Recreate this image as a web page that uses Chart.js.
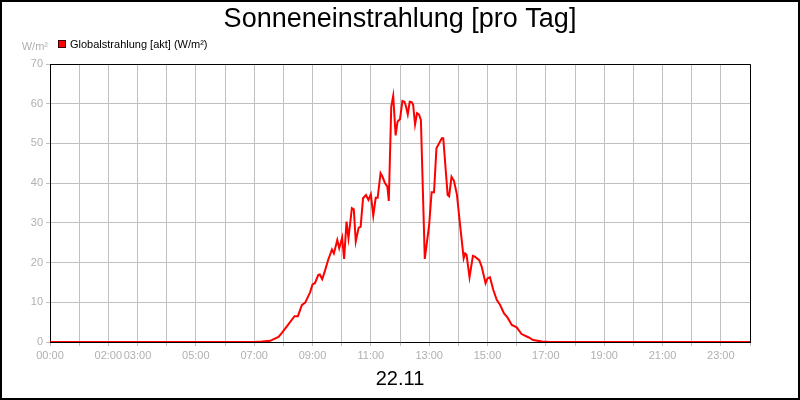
<!DOCTYPE html>
<html>
<head>
<meta charset="utf-8">
<script src="https://cdn.jsdelivr.net/npm/chart.js@4"></script>
<style>
  html, body { margin: 0; padding: 0; background: #fff; }
  #wrap { width: 800px; height: 400px; }
</style>
</head>
<body>
<div id="wrap"><canvas id="sun"></canvas></div>
<script>
// time of day (HH:MM) and global radiation in W/m²
const times = [
  "00:00", "07:00", "07:16", "07:33", "07:50", "07:57", "08:10", "08:23", "08:30", "08:38",
  "08:45", "08:55", "09:00", "09:05", "09:12", "09:15", "09:20", "09:26", "09:32", "09:40",
  "09:44", "09:51", "09:55", "10:01", "10:05", "10:10", "10:14", "10:21", "10:25", "10:29",
  "10:35", "10:39", "10:44", "10:50", "10:55", "11:00", "11:05", "11:10", "11:14", "11:20",
  "11:24", "11:29", "11:34", "11:37", "11:42", "11:46", "11:51", "11:55", "12:00", "12:05",
  "12:09", "12:12", "12:16", "12:20", "12:24", "12:27", "12:31", "12:35", "12:39", "12:43",
  "12:51", "13:00", "13:05", "13:10", "13:15", "13:26", "13:29", "13:38", "13:41", "13:46",
  "13:51", "13:57", "14:03", "14:11", "14:14", "14:17", "14:23", "14:30", "14:34", "14:43",
  "14:48", "14:56", "15:00", "15:05", "15:12", "15:19", "15:26", "15:34", "15:41", "15:50",
  "16:00", "16:10", "16:24", "16:34", "16:52", "17:09", "24:00"
];
const radiation = [
  0, 0, 0.1, 0.3, 1.3, 2.3, 4.4, 6.5, 6.5, 9.3,
  9.9, 12.5, 14.5, 14.8, 16.9, 17.0, 15.8, 18.1, 20.6, 23.3,
  22.3, 25.7, 23.6, 26.3, 20.9, 30.3, 26.1, 33.7, 33.4, 25.3,
  28.8, 29.0, 36.2, 37.0, 35.8, 37.2, 31.8, 36.3, 36.3, 42.5,
  41.6, 40.0, 39.1, 35.5, 59.3, 62.0, 52.0, 55.5, 56.1, 60.7,
  60.5, 59.5, 57.3, 60.5, 60.4, 59.7, 54.8, 57.6, 57.3, 55.9,
  20.9, 29.5, 37.7, 37.7, 48.8, 51.3, 51.3, 37.0, 36.7, 41.6,
  40.6, 37.2, 30.1, 21.1, 22.3, 21.9, 16.3, 21.7, 21.5, 20.6,
  19.0, 14.8, 16.0, 16.3, 13.1, 10.6, 9.3, 7.2, 6.2, 4.3,
  3.7, 2.0, 1.2, 0.5, 0.1, 0, 0
];
// hours that carry a label on the x axis (grid is drawn every hour)
const labelHours = [0, 2, 3, 5, 7, 9, 11, 13, 15, 17, 19, 21, 23];
const yMax = 70;
const yStep = 10;
const dayLabel = "22.11";

const FONT = "'Liberation Sans', Arial, sans-serif";
const GRID = "#c0c0c0";
const TEXT_GRAY = "#b0b0b0";

function toMinutes(t) {
  const [h, m] = t.split(":").map(Number);
  return h * 60 + m;
}
function hhmm(min) {
  const h = Math.floor(min / 60);
  return String(h).padStart(2, "0") + ":00";
}

const points = times.map((t, i) => ({ x: toMinutes(t), y: radiation[i] }));

// frame round the plot, outer border, legend and unit label
const decorations = {
  id: "decorations",
  afterDraw(chart) {
    const ctx = chart.ctx;
    const a = chart.chartArea;
    ctx.save();
    ctx.strokeStyle = "#000";
    ctx.lineWidth = 1;
    ctx.beginPath();
    ctx.moveTo(Math.round(a.left) + 0.5, Math.round(a.top) + 0.5);
    ctx.lineTo(Math.round(a.right) + 0.5, Math.round(a.top) + 0.5);
    ctx.lineTo(Math.round(a.right) + 0.5, Math.round(a.bottom) + 0.5);
    ctx.stroke();

    ctx.lineWidth = 2;
    ctx.strokeRect(1, 1, chart.width - 2, chart.height - 2);

    const ds = chart.data.datasets[0];
    ctx.fillStyle = ds.borderColor;
    ctx.fillRect(58, 40, 8, 8);
    ctx.lineWidth = 1;
    ctx.strokeStyle = "#400000";
    ctx.strokeRect(58.5, 40.5, 7, 7);

    ctx.font = "11px " + FONT;
    ctx.textBaseline = "middle";
    ctx.textAlign = "left";
    ctx.fillStyle = "#000";
    ctx.fillText(ds.label, 70, 44.5);

    ctx.fillStyle = TEXT_GRAY;
    ctx.textAlign = "right";
    ctx.fillText("W/m²", 48, 47);
    ctx.restore();
  }
};

new Chart(document.getElementById("sun").getContext("2d"), {
  type: "line",
  data: {
    datasets: [
      {
        label: "Globalstrahlung [akt] (W/m²)",
        data: points,
        borderColor: "#ff0000",
        borderWidth: 2,
        pointRadius: 0,
        tension: 0,
        fill: false,
      },
    ],
  },
  options: {
    responsive: true,
    maintainAspectRatio: false,
    animation: false,
    layout: { padding: 0 },
    plugins: {
      legend: { display: false },
      tooltip: { enabled: false },
      title: {
        display: true,
        text: "Sonneneinstrahlung [pro Tag]",
        color: "#000",
        font: { family: FONT, size: 27, weight: "normal", lineHeight: 1.2 },
        padding: { top: 3, bottom: 28.6 },
      },
    },
    scales: {
      x: {
        type: "linear",
        min: 0,
        max: 1440,
        afterBuildTicks: (scale) => {
          const ticks = [];
          for (let h = 0; h <= 24; h++) ticks.push({ value: h * 60 });
          scale.ticks = ticks;
        },
        afterFit: (scale) => { scale.height = 58; },
        ticks: {
          autoSkip: false,
          maxRotation: 0,
          padding: 3,
          color: TEXT_GRAY,
          font: { family: FONT, size: 11 },
          callback: (v) => (labelHours.includes(v / 60) ? hhmm(v) : ""),
        },
        grid: { color: GRID, tickColor: GRID, tickLength: 4 },
        border: { color: "#000", width: 1 },
        title: {
          display: true,
          text: dayLabel,
          color: "#000",
          font: { family: FONT, size: 20 },
          padding: { top: 0, bottom: 9 },
        },
      },
      y: {
        min: 0,
        max: yMax,
        afterFit: (scale) => { scale.width = 50; },
        ticks: {
          stepSize: yStep,
          padding: 3,
          color: TEXT_GRAY,
          font: { family: FONT, size: 11 },
        },
        grid: { color: GRID, tickColor: GRID, tickLength: 4 },
        border: { color: "#000", width: 1 },
      },
      // empty right-hand margin so the title stays centred on the page
      yRight: {
        position: "right",
        min: 0,
        max: yMax,
        afterFit: (scale) => { scale.width = 50; },
        ticks: { display: false },
        grid: { display: false },
        border: { display: false },
      },
    },
  },
  plugins: [decorations],
});
</script>
</body>
</html>
